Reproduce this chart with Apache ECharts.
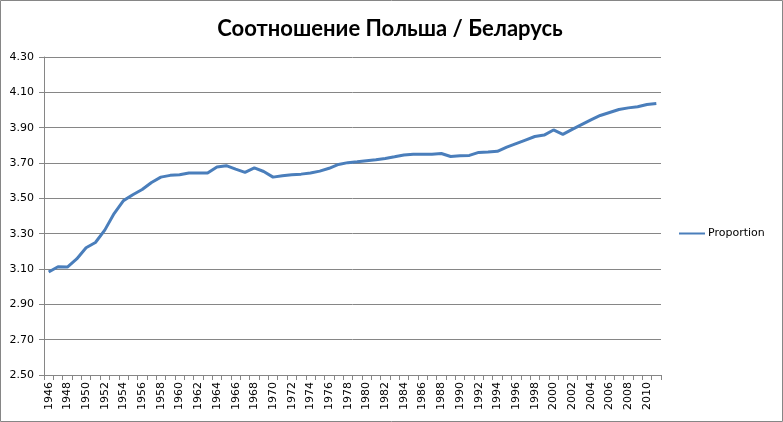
<!DOCTYPE html>
<html>
<head>
<meta charset="utf-8">
<script src="https://cdn.jsdelivr.net/npm/echarts@6/dist/echarts.min.js"></script>
<style>
html,body{margin:0;padding:0;background:#fff;}
#chart{width:783px;height:422px;}
</style>
</head>
<body>
<div id="chart"></div>
<script>
const titleText = 'Соотношение Польша / Беларусь';
const seriesName = 'Proportion';
const years = [];
for (let y = 1946; y <= 2011; y++) years.push(String(y));
const proportion = [
  3.083, 3.113, 3.111, 3.157, 3.220, 3.250, 3.320, 3.414, 3.487, 3.520,
  3.550, 3.590, 3.620, 3.630, 3.633, 3.643, 3.643, 3.643, 3.677, 3.685,
  3.665, 3.647, 3.672, 3.652, 3.620, 3.628, 3.634, 3.637, 3.643, 3.654,
  3.670, 3.692, 3.702, 3.707, 3.713, 3.719, 3.726, 3.735, 3.745, 3.749,
  3.749, 3.750, 3.754, 3.737, 3.741, 3.743, 3.760, 3.762, 3.766, 3.790,
  3.810, 3.830, 3.850, 3.858, 3.887, 3.862, 3.890, 3.917, 3.944, 3.969,
  3.986, 4.003, 4.012, 4.018, 4.031, 4.037
];
const yMin = 2.5, yMax = 4.3, yStep = 0.2;

const chart = echarts.init(document.getElementById('chart'), null, {renderer: 'canvas'});
chart.setOption({
  animation: false,
  backgroundColor: '#ffffff',
  title: {
    text: titleText,
    left: 385, top: 13, textAlign: 'center',
    textStyle: {fontFamily: 'Lato', fontWeight: 'bold', fontSize: 22, color: '#000'}
  },
  legend: {
    orient: 'vertical', left: 674, top: 223,
    itemWidth: 26, itemHeight: 10, itemGap: 4,
    icon: 'path://M0,4 L26,4 L26,6 L0,6 Z',
    textStyle: {fontFamily: 'DejaVu Sans', fontSize: 11, color: '#000', padding: [0,0,0,-2]},
    data: [{name: seriesName}]
  },
  graphic: [{
    type: 'rect', silent: true, z: 100,
    shape: {x: 0.5, y: 0.5, width: 782, height: 421},
    style: {fill: 'none', stroke: '#868686', lineWidth: 1}
  }],
  grid: {left: 44, right: 122, top: 57, bottom: 47, containLabel: false},
  xAxis: {
    type: 'category', data: years, boundaryGap: true,
    axisLine: {lineStyle: {color: '#868686'}},
    axisTick: {show: true, interval: 0, length: 5, lineStyle: {color: '#868686'}},
    axisLabel: {interval: 1, rotate: 90, fontFamily: 'DejaVu Sans', fontSize: 11, color: '#000', margin: 7}
  },
  yAxis: {
    type: 'value', min: yMin, max: yMax, interval: yStep,
    axisLine: {show: true, lineStyle: {color: '#868686'}},
    axisTick: {show: true, length: 5, lineStyle: {color: '#868686'}},
    splitLine: {lineStyle: {color: '#868686'}},
    axisLabel: {formatter: v => v.toFixed(2), fontFamily: 'DejaVu Sans', fontSize: 11, color: '#000', margin: 10}
  },
  series: [{
    name: seriesName, type: 'line', data: proportion,
    showSymbol: false, symbol: 'none', smooth: false,
    lineStyle: {color: '#4A7EBB', width: 3},
    itemStyle: {color: '#4A7EBB'}
  }]
});
</script>
</body>
</html>
